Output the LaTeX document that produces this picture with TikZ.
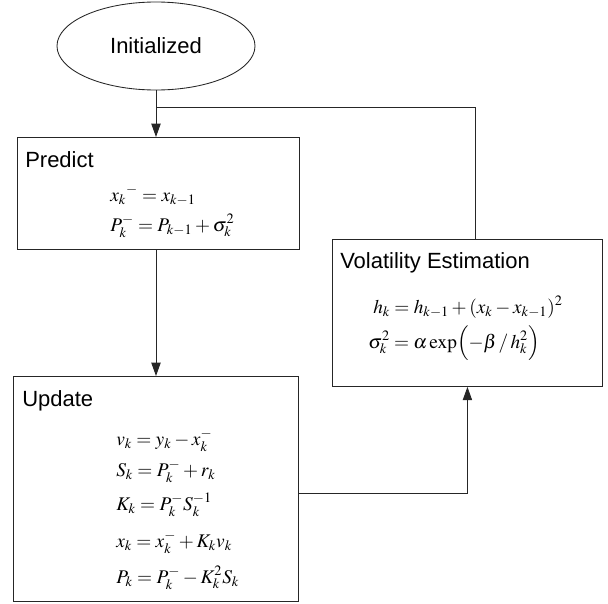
\documentclass[tikz,border=0pt]{standalone}
\usepackage{mathptmx}
\usepackage[no-math]{fontspec}
\setmainfont{Liberation Sans}
\usetikzlibrary{arrows.meta,shapes.geometric}

\tikzset{
  box/.style={draw=black!85, line width=0.65pt, rectangle, anchor=north west, inner sep=0pt},
  title/.style={anchor=base west, inner sep=0pt, font=\fontsize{16.5}{19}\selectfont},
  eq/.style={anchor=base west, inner sep=0pt, font=\fontsize{14.5}{17}\selectfont},
  link/.style={draw=black!85, line width=0.65pt},
  flow/.style={link, -{Triangle[length=10pt,width=7pt]}},
}

\begin{document}
\begin{tikzpicture}[x=0.75pt,y=-0.75pt]
\useasboundingbox (0,0) rectangle (608,604);

% Start state
\node[ellipse, draw=black!85, line width=0.65pt, minimum width=148.5pt, minimum height=66pt,
      font=\fontsize{16.5}{19}\selectfont] (init) at (156,46) {Initialized};

% Boxes
\node[box, minimum width=211.5pt, minimum height=84pt] (pred) at (17,137) {};
\node[box, minimum width=213.75pt, minimum height=168.75pt] (upd) at (13,376) {};
\node[box, minimum width=202.5pt, minimum height=110.25pt] (vol) at (332,239) {};

% Box titles
\node[title] (predT) at (25,167) {Predict};
\node[title] (updT) at (22,406) {Update};
\node[title] (volT) at (340,268) {Volatility Estimation};

% Predict equations
\node[eq] (pred1) at (110,201) {$x_k{}^{-} = x_{k-1}$};
\node[eq] (pred2) at (110,231) {$P_k^{-} = P_{k-1} + \sigma_k^2$};

% Update equations
\foreach \y/\eqn [count=\i] in {445/{v_k = y_k - x_k^{-}},
                                476/{S_k = P_k^{-} + r_k},
                                510/{K_k = P_k^{-} S_k^{-1}},
                                547/{x_k = x_k^{-} + K_k v_k},
                                583/{P_k = P_k^{-} - K_k^2 S_k}}
  \node[eq] (upd\i) at (116,\y) {$\eqn$};

% Volatility equations
\node[eq] (vol1) at (373,313) {$h_k = h_{k-1} + (x_k - x_{k-1})^2$};
\node[eq] (vol2) at (368,348) {$\sigma_k^2 = \alpha\exp\Bigl(-\beta\,/\,h_k^2\Bigr)$};

% Connectors
\coordinate (loop) at (475,107);
\draw[flow] (init.south) -- (init.south |- pred.north);
\draw[link] (vol.north -| loop) -- (loop) -- (init.south |- loop);
\draw[flow] (init.south |- pred.south) -- (init.south |- upd.north);
\draw[flow] ([yshift=-3pt]upd.east) -| (vol.south);

\end{tikzpicture}
\end{document}
